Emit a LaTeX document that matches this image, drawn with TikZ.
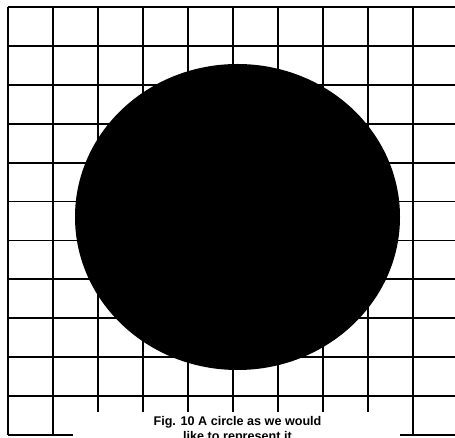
\documentclass[tikz,border=0pt]{standalone}
\usepackage{fontspec}
\newfontfamily\capfont{Liberation Sans}
\usepackage{tikz}

\begin{document}
\begin{tikzpicture}[x=1pt,y=-1pt,
    gridline/.style={black,line width=1.7pt},
    caption/.style={font=\capfont\bfseries\fontsize{12.6}{15}\selectfont,align=center,inner sep=0pt}]
        \useasboundingbox (0,0) rectangle (455,438);
        \clip (0,0) rectangle (455,438);
        % horizontal lines of the grid
        \foreach \k in {0,...,10}
            \draw[gridline] (8.3,{7.3+38.85*\k}) -- (455,{7.3+38.85*\k});
        % last line only at the two sides
        \draw[gridline] (8.3,434.7) -- (73,434.7);
        \draw[gridline] (400,434.7) -- (455,434.7);
        % vertical lines, inner ones stop above the caption
        \foreach \j in {0,1,9}
            \draw[gridline] ({8.3+45*\j},7.3) -- ({8.3+45*\j},434.7);
        \foreach \j in {2,...,8}
            \draw[gridline] ({8.3+45*\j},7.3) -- ({8.3+45*\j},412);
        % the disc
        \fill[black] (237.5,217) ellipse [x radius=162.5, y radius=153];
        % caption
        \node[caption,anchor=north] (figcap) at (237.5,416.5)
            {Fig. 10 A circle as we would\\like to represent it};
    \end{tikzpicture}
\end{document}
